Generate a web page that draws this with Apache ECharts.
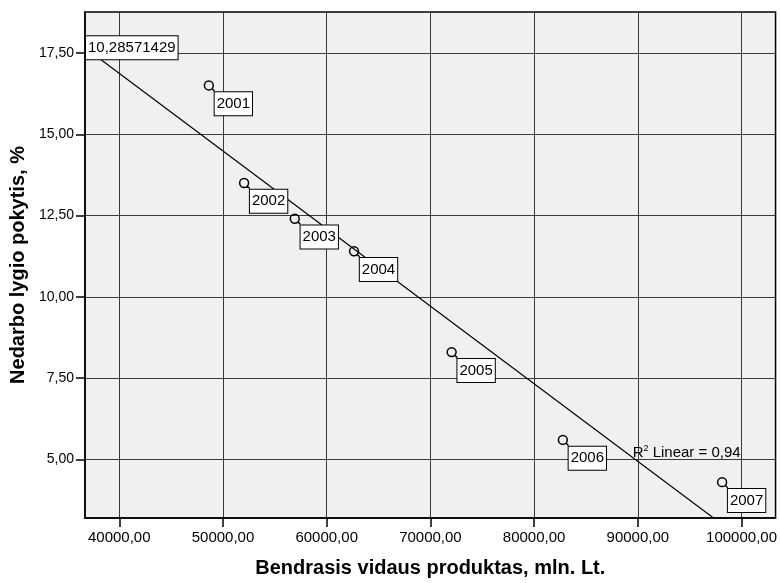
<!DOCTYPE html>
<html>
<head>
<meta charset="utf-8">
<script src="https://cdn.jsdelivr.net/npm/echarts@6/dist/echarts.min.js"></script>
<style>
  html, body { margin: 0; padding: 0; background: #fff; }
  #chart { width: 780px; height: 583px; }
</style>
</head>
<body>
<div id="chart"></div>
<script>
// GDP (mln. Lt) against change in unemployment rate (%), by year
const years = ['2001', '2002', '2003', '2004', '2005', '2006', '2007'];
const gdp = [48642, 52042, 56927, 62640, 72052, 82775, 98131];
const unemployment = [16.5, 13.5, 12.4, 11.4, 8.3, 5.6, 4.3];

// Axis ticks
const xTicks = [40000, 50000, 60000, 70000, 80000, 90000, 100000];
const yTicks = [5, 7.5, 10, 12.5, 15, 17.5];
const xRange = [36696, 103280];
const yRange = [3.2, 18.76];

const FONT = '"Liberation Sans", Arial, Helvetica, sans-serif';
const comma = (v, d) => v.toFixed(d).replace('.', ',');

// Least squares fit
const n = gdp.length;
const mx = gdp.reduce((a, b) => a + b, 0) / n;
const my = unemployment.reduce((a, b) => a + b, 0) / n;
let sxy = 0, sxx = 0, syy = 0;
for (let i = 0; i < n; i++) {
  sxy += (gdp[i] - mx) * (unemployment[i] - my);
  sxx += (gdp[i] - mx) ** 2;
  syy += (unemployment[i] - my) ** 2;
}
const slope = sxy / sxx;
const fit = x => my + slope * (x - mx);
const r2 = (sxy * sxy) / (sxx * syy);

// open circle with a small tail at the lower right
const markerPath = 'path://M1,5 A4,4 0 1,1 9,5 A4,4 0 1,1 1,5 Z M8,8 L10,10';

const chart = echarts.init(document.getElementById('chart'));

const boxLabel = {
  show: true,
  opacity: 1,
  color: '#000',
  fontFamily: FONT,
  fontSize: 15,
  lineHeight: 17,
  backgroundColor: '#fff',
  borderColor: '#000',
  borderWidth: 1,
  padding: [3, 2, 3, 2]
};

chart.setOption({
  animation: false,
  grid: {
    left: 85, top: 12, right: 4, bottom: 61,
    show: true,
    backgroundColor: '#f0f0f0',
    borderColor: '#000',
    borderWidth: 1.5
  },
  xAxis: {
    type: 'value',
    min: xRange[0], max: xRange[1],
    name: 'Bendrasis vidaus produktas, mln. Lt.',
    nameLocation: 'middle',
    nameGap: 40,
    nameTextStyle: { fontFamily: FONT, fontSize: 20, fontWeight: 'bold', color: '#000' },
    axisLine: { show: true, lineStyle: { color: '#000', width: 1.5 } },
    axisTick: { show: true, length: 9, lineStyle: { color: '#000', width: 1.5 }, customValues: xTicks },
    axisLabel: {
      customValues: xTicks, margin: 12,
      fontFamily: FONT, fontSize: 15, color: '#000',
      formatter: v => comma(v, 2)
    },
    splitLine: { show: false }
  },
  yAxis: {
    type: 'value',
    min: yRange[0], max: yRange[1],
    name: 'Nedarbo lygio pokytis, %',
    nameLocation: 'middle',
    nameGap: 55,
    nameTextStyle: { fontFamily: FONT, fontSize: 20, fontWeight: 'bold', color: '#000' },
    axisLine: { show: true, lineStyle: { color: '#000', width: 1.5 } },
    axisTick: { show: true, length: 9, lineStyle: { color: '#000', width: 1.5 }, customValues: yTicks },
    axisLabel: {
      customValues: yTicks, margin: 11,
      fontFamily: FONT, fontSize: 14, color: '#000',
      formatter: v => comma(v, 2)
    },
    splitLine: { show: false }
  },
  series: [
    {
      // grid lines at the tick values
      type: 'line',
      data: [],
      silent: true,
      z: 0,
      markLine: {
        silent: true,
        z: 0,
        symbol: 'none',
        label: { show: false },
        lineStyle: { color: '#3a3a3a', width: 1, type: 'solid' },
        data: xTicks.map(v => ({ xAxis: v })).concat(yTicks.map(v => ({ yAxis: v })))
      }
    },
    {
      // regression line
      type: 'line',
      silent: true,
      symbol: 'none',
      z: 3,
      lineStyle: { color: '#000', width: 1.2 },
      data: [[xRange[0], fit(xRange[0])], [xRange[1], fit(xRange[1])]],
      markPoint: {
        symbol: 'circle',
        symbolSize: 0,
        z: 10,
        data: [
          {
            coord: [xRange[0], fit(xRange[0])],
            label: Object.assign({}, boxLabel, {
              position: 'right', distance: 1,
              formatter: comma(my, 8)
            })
          },
          {
            coord: [89500, 5.2],
            label: {
              show: true,
              position: 'right', distance: 0,
              fontFamily: FONT, fontSize: 15, color: '#000',
              formatter: 'R{sup|2} Linear = ' + comma(r2, 2),
              rich: { sup: { fontFamily: FONT, fontSize: 9, color: '#000', verticalAlign: 'top', padding: [0, 0, 8, 0] } }
            }
          }
        ]
      }
    },
    {
      type: 'scatter',
      z: 10,
      symbol: markerPath,
      symbolSize: 10,
      symbolOffset: [0.5, 0.5],
      itemStyle: { color: 'rgba(0,0,0,0)', borderColor: '#000', borderWidth: 1.5, opacity: 1 },
      data: gdp.map((x, i) => ({ value: [x, unemployment[i]], name: years[i] })),
      label: Object.assign({}, boxLabel, {
        position: [11, 12],
        formatter: p => p.name
      })
    }
  ]
});
</script>
</body>
</html>
